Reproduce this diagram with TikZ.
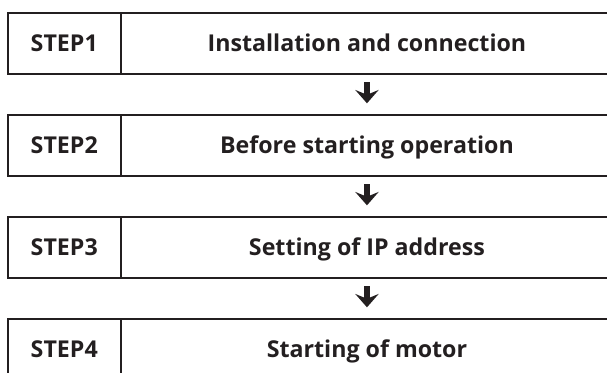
\documentclass[tikz,border=0pt]{standalone}
\usepackage{fontspec}
\setmainfont{Open Sans}
\usetikzlibrary{arrows.meta,positioning}

\definecolor{inkdark}{HTML}{231F20}

\tikzset{
  stepcell/.style={draw=inkdark, line width=1.5pt, outer sep=0pt, inner sep=0pt,
    minimum width=85.1pt, minimum height=45.75pt, text height=12.6pt, text depth=0pt,
    font=\fontsize{17.4}{20}\selectfont\bfseries, text=inkdark},
  titlecell/.style={stepcell, minimum width=369pt},
  flowarrow/.style={draw=inkdark, line width=4.2pt,
    -{Stealth[length=10pt, width=17.5pt, inset=3.6pt, fill=inkdark]},
    shorten <=6.4pt, shorten >=8.4pt}
}

\begin{document}
\begin{tikzpicture}[x=0.75pt, y=-0.75pt]
    % page frame, 607 x 372 px
    \useasboundingbox (0,0) rectangle (607,372);
    \clip (0,0) rectangle (607,372);
    % ---- the four steps
    \node[stepcell, anchor=north west] (s1) at (7.5,12.5) {STEP1};
    \node[titlecell, right=0pt of s1] (t1) {Installation and connection};
    \node[stepcell, anchor=north west] (s2) at (7.5,114.5) {STEP2};
    \node[titlecell, right=0pt of s2] (t2) {Before starting operation};
    \node[stepcell, anchor=north west] (s3) at (7.5,216.5) {STEP3};
    \node[titlecell, right=0pt of s3] (t3) {Setting of IP address};
    \node[stepcell, anchor=north west] (s4) at (7.5,318.5) {STEP4};
    \node[titlecell, right=0pt of s4] (t4) {Starting of motor};
    % ---- arrows between steps
    \draw[flowarrow] (t1.south) -- (t2.north);
    \draw[flowarrow] (t2.south) -- (t3.north);
    \draw[flowarrow] (t3.south) -- (t4.north);
\end{tikzpicture}
\end{document}
